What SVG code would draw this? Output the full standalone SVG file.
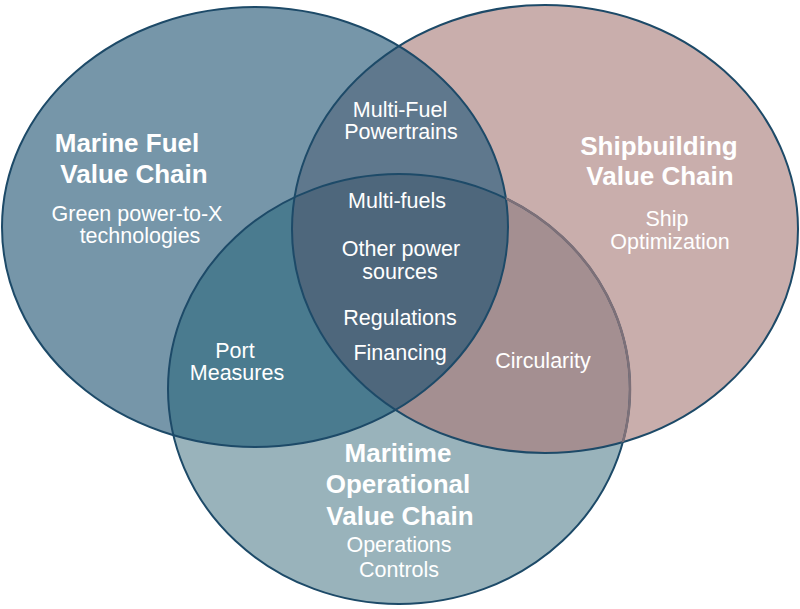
<svg xmlns="http://www.w3.org/2000/svg" width="800" height="609" viewBox="0 0 800 609">
<defs>
<style>
.t{font-family:"Liberation Sans",Arial,sans-serif;fill:#ffffff;text-anchor:middle}
.b{font-weight:bold;font-size:26px}
.r{font-size:21.5px}
.edge{fill:none;stroke:#1d4a68;stroke-width:2}
</style>
<ellipse id="eL" cx="255" cy="227" rx="253" ry="220"/>
<ellipse id="eR" cx="545" cy="229" rx="253" ry="224"/>
<ellipse id="eB" cx="399" cy="389" rx="231" ry="215"/>
<clipPath id="cL"><use href="#eL"/></clipPath>
<clipPath id="cR"><use href="#eR"/></clipPath>
<mask id="mRnoL" maskUnits="userSpaceOnUse" x="0" y="0" width="800" height="609">
<use href="#eR" fill="#fff"/>
<use href="#eL" fill="#000"/>
</mask>
</defs>
<rect width="800" height="609" fill="#ffffff"/>
<g id="regions">
<use href="#eL" fill="#7696a9"/>
<use href="#eR" fill="#c9aeac"/>
<use href="#eB" fill="#99b3bb"/>
<use href="#eR" fill="#5f788d" clip-path="url(#cL)"/>
<use href="#eB" fill="#4a7b8f" clip-path="url(#cL)"/>
<use href="#eB" fill="#a48f91" clip-path="url(#cR)"/>
<g clip-path="url(#cR)"><use href="#eB" fill="#4e677c" clip-path="url(#cL)"/></g>
</g>
<g id="connectors">
<use href="#eL" class="edge"/>
<use href="#eR" class="edge"/>
<use href="#eB" class="edge"/>
<use href="#eB" fill="none" stroke="#7d7078" stroke-width="2.5" mask="url(#mRnoL)"/>
</g>
<g id="marine-fuel">
<text class="t b" x="127" y="152">Marine Fuel</text>
<text class="t b" x="134" y="183">Value Chain</text>
<text class="t r" x="137" y="221">Green power-to-X</text>
<text class="t r" x="140" y="243">technologies</text>
</g>
<g id="shipbuilding">
<text class="t b" x="659" y="155">Shipbuilding</text>
<text class="t b" x="660" y="185">Value Chain</text>
<text class="t r" x="667" y="226">Ship</text>
<text class="t r" x="670" y="249">Optimization</text>
</g>
<g id="maritime-operational">
<text class="t b" x="398" y="462">Maritime</text>
<text class="t b" x="398" y="493">Operational</text>
<text class="t b" x="400" y="525">Value Chain</text>
<text class="t r" x="399" y="552">Operations</text>
<text class="t r" x="399" y="577">Controls</text>
</g>
<g id="multi-fuel-powertrains">
<text class="t r" x="400" y="117">Multi-Fuel</text>
<text class="t r" x="401" y="139">Powertrains</text>
</g>
<g id="center">
<text class="t r" x="397" y="208">Multi-fuels</text>
<text class="t r" x="401" y="256">Other power</text>
<text class="t r" x="400" y="279">sources</text>
<text class="t r" x="400" y="325">Regulations</text>
<text class="t r" x="400" y="360">Financing</text>
</g>
<g id="port-measures">
<text class="t r" x="235" y="358">Port</text>
<text class="t r" x="237" y="380">Measures</text>
</g>
<g id="circularity">
<text class="t r" x="543" y="368">Circularity</text>
</g>
</svg>
